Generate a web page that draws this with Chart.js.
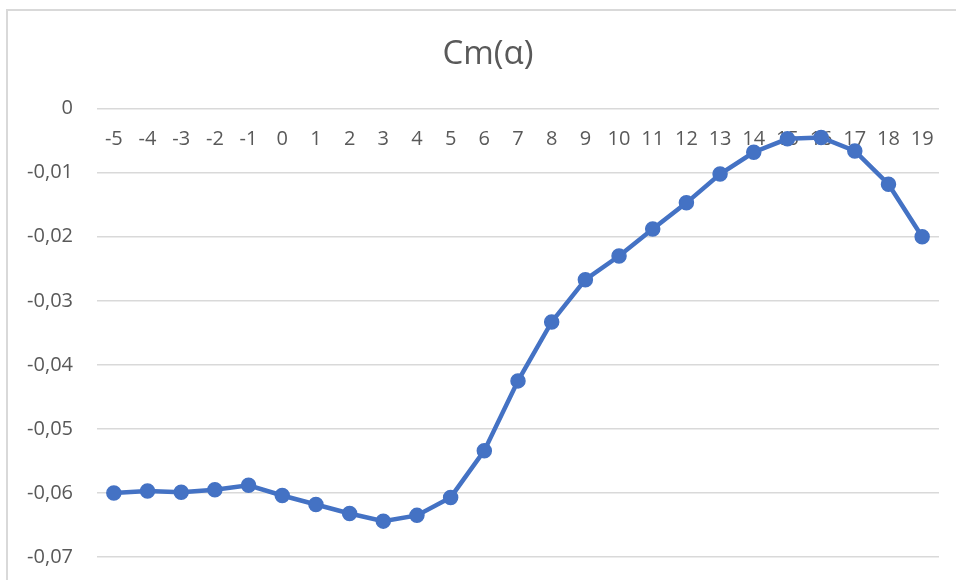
<!DOCTYPE html>
<html>
<head>
<meta charset="utf-8">
<script src="https://cdn.jsdelivr.net/npm/chart.js@4/dist/chart.umd.min.js"></script>
<style>
  html, body { margin: 0; padding: 0; background: #fff; overflow: hidden; }
  #frame { position: absolute; left: 6px; top: 9px; width: 1200px; height: 1200px;
           border: 2px solid #d9d9d9; box-sizing: border-box; }
  #wrap { position: absolute; left: 0; top: 0; width: 956px; height: 593px; }
</style>
</head>
<body>
<div id="frame"></div>
<div id="wrap"><canvas id="chart" width="956" height="593"></canvas></div>
<script>
// Angle of attack (degrees)
const alphaDeg = [-5, -4, -3, -2, -1, 0, 1, 2, 3, 4, 5, 6, 7, 8, 9, 10, 11, 12, 13, 14, 15, 16, 17, 18, 19];
// Pitching moment coefficient
const cmValues = [-0.0600, -0.0597, -0.0599, -0.0595, -0.0588, -0.0604, -0.0618, -0.0632, -0.0644, -0.0635,
                  -0.0607, -0.0534, -0.0425, -0.0333, -0.0267, -0.0230, -0.0188, -0.0147, -0.0102, -0.0068,
                  -0.0047, -0.0045, -0.0066, -0.0118, -0.0200];
const yTicks = [0, -0.01, -0.02, -0.03, -0.04, -0.05, -0.06, -0.07];
const chartTitle = 'Cm(α)';

const textColor = '#595959';
const gridColor = '#d9d9d9';
const lineColor = '#4472c4';
const fontFamily = '"Open Sans", "Liberation Sans", sans-serif';

// Title centred on the whole chart frame rather than on the canvas minus the right padding
const frameTitle = {
  id: 'frameTitle',
  afterDraw(chart) {
    const ctx = chart.ctx;
    ctx.save();
    ctx.fillStyle = textColor;
    ctx.font = '33px ' + fontFamily;
    ctx.textAlign = 'center';
    ctx.textBaseline = 'middle';
    ctx.fillText(chartTitle, chart.width / 2 + 10, 55);
    ctx.restore();
  }
};

new Chart(document.getElementById('chart'), {
  type: 'line',
  data: {
    labels: alphaDeg.map(String),
    datasets: [{
      data: cmValues,
      borderColor: lineColor,
      backgroundColor: lineColor,
      borderWidth: 4.5,
      pointRadius: 7,
      pointBorderWidth: 1.5,
      pointHoverRadius: 7,
      tension: 0,
      fill: false
    }]
  },
  plugins: [frameTitle],
  options: {
    responsive: false,
    animation: false,
    events: [],
    layout: { padding: { left: 0, right: 17, top: 108.7, bottom: 10 } },
    plugins: {
      legend: { display: false },
      tooltip: { enabled: false },
      title: { display: false }
    },
    scales: {
      x: {
        position: { y: 0 },
        offset: true,
        afterFit: (scale) => { scale.height = 0; },
        grid: { display: false, drawTicks: false },
        border: { display: false },
        ticks: {
          color: textColor,
          font: { family: fontFamily, size: 20 },
          padding: 19,
          maxRotation: 0,
          autoSkip: false
        }
      },
      y: {
        min: -0.07,
        max: 0,
        afterFit: (scale) => { scale.width = 97; },
        afterBuildTicks: (scale) => { scale.ticks = yTicks.map(v => ({ value: v })); },
        grid: { color: gridColor, lineWidth: 1.5, drawTicks: false },
        border: { display: false },
        ticks: {
          color: textColor,
          font: { family: fontFamily, size: 20 },
          padding: 24,
          callback: (v) => v === 0 ? '0' : v.toFixed(2).replace('.', ',')
        }
      }
    }
  }
});
</script>
</body>
</html>
